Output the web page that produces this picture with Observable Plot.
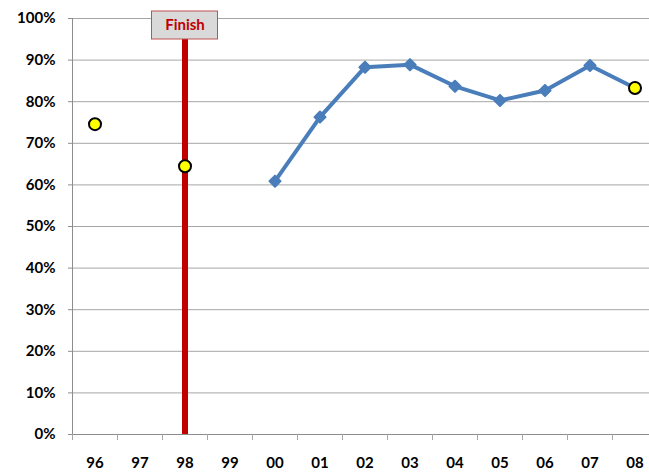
<!DOCTYPE html>
<html>
<head>
<meta charset="utf-8">
<script src="https://cdn.jsdelivr.net/npm/d3@7"></script>
<script src="https://cdn.jsdelivr.net/npm/@observablehq/plot@0.6"></script>
<style>
  html, body { margin: 0; padding: 0; background: #fff; }
</style>
</head>
<body>
<div id="chart"></div>
<script>
// Categories (two-digit years)
const years = ["96", "97", "98", "99", "00", "01", "02", "03", "04", "05", "06", "07", "08"];

// Blue line series
const lineYears  = ["00", "01", "02", "03", "04", "05", "06", "07", "08"];
const lineValues = [0.609, 0.763, 0.883, 0.889, 0.837, 0.803, 0.827, 0.887, 0.833];

// Yellow highlighted points
const highlightYears  = ["96", "98", "08"];
const highlightValues = [0.746, 0.645, 0.833];

// Event marker
const eventYears  = ["98"];
const eventLabels = ["Finish"];

// Y tick values
const yTicks = [0, 0.1, 0.2, 0.3, 0.4, 0.5, 0.6, 0.7, 0.8, 0.9, 1.0];

const idx = (y) => years.indexOf(y);
const lineData = lineYears.map((year, i) => ({year, value: lineValues[i]}));
const hlData = highlightYears.map((year, i) => ({year, value: highlightValues[i]}));
const eventData = eventYears.map((year, i) => ({year, label: eventLabels[i]}));
const catPositions = years.map((d, i) => i);
const boundaries = years.map((d, i) => i - 0.5).concat([years.length - 0.5]);

const chart = Plot.plot({
  width: 649,
  height: 474,
  marginLeft: 72,
  marginRight: 0,
  marginTop: 18,
  marginBottom: 40,
  style: {fontFamily: "Lato, 'Open Sans', sans-serif", fontWeight: "bold", fontSize: "15px", color: "#000", background: "#fff"},
  x: {type: "linear", domain: [-0.5, years.length - 0.5], range: [72, 657]},
  y: {domain: [0, 1], range: [434, 18]},
  marks: [
    Plot.ruleY(yTicks, {stroke: "#a6a6a6"}),
    Plot.ruleY([0], {stroke: "#8c8c8c"}),
    Plot.ruleX([-0.5], {y1: 0, y2: 1, stroke: "#8c8c8c"}),
    Plot.axisY({ticks: yTicks, tickFormat: d3.format(".0%"), tickSize: 4, tickPadding: 13, stroke: "#8c8c8c", label: null, fontSize: 15, fontWeight: "bold"}),
    Plot.axisX({ticks: boundaries, tickSize: 6, tickFormat: () => "", stroke: "#a6a6a6", label: null}),
    Plot.axisX({ticks: catPositions, tickSize: 0, tickPadding: 23, tickFormat: (i) => years[i], label: null, fontSize: 15, fontWeight: "bold"}),
    // Event rule + label box
    Plot.ruleX(eventData, {x: (d) => idx(d.year), y1: 0, y2: 1, stroke: "#C00000", strokeWidth: 6}),
    Plot.rect(eventData, {x1: (d) => idx(d.year), x2: (d) => idx(d.year), y1: 1, y2: 1,
      insetLeft: -33, insetRight: -33, insetTop: -7, insetBottom: -21,
      fill: "#D9D9D9", stroke: "#C0504D", strokeWidth: 1}),
    Plot.text(eventData, {x: (d) => idx(d.year), y: 1, dy: 7, text: "label", fill: "#C00000", fontSize: 15, fontWeight: "bold"}),
    // Line series
    Plot.line(lineData, {x: (d) => idx(d.year), y: "value", stroke: "#4A7EBB", strokeWidth: 4, strokeLinejoin: "round"}),
    Plot.dot(lineData, {x: (d) => idx(d.year), y: "value", symbol: "diamond2", r: 5, fill: "#4A7EBB", stroke: "#4A7EBB", strokeWidth: 2, strokeLinejoin: "round"}),
    // Highlight points
    Plot.dot(hlData, {x: (d) => idx(d.year), y: "value", r: 6, fill: "#FFFF00", stroke: "#000", strokeWidth: 2})
  ]
});

document.getElementById("chart").appendChild(chart);
</script>
</body>
</html>
